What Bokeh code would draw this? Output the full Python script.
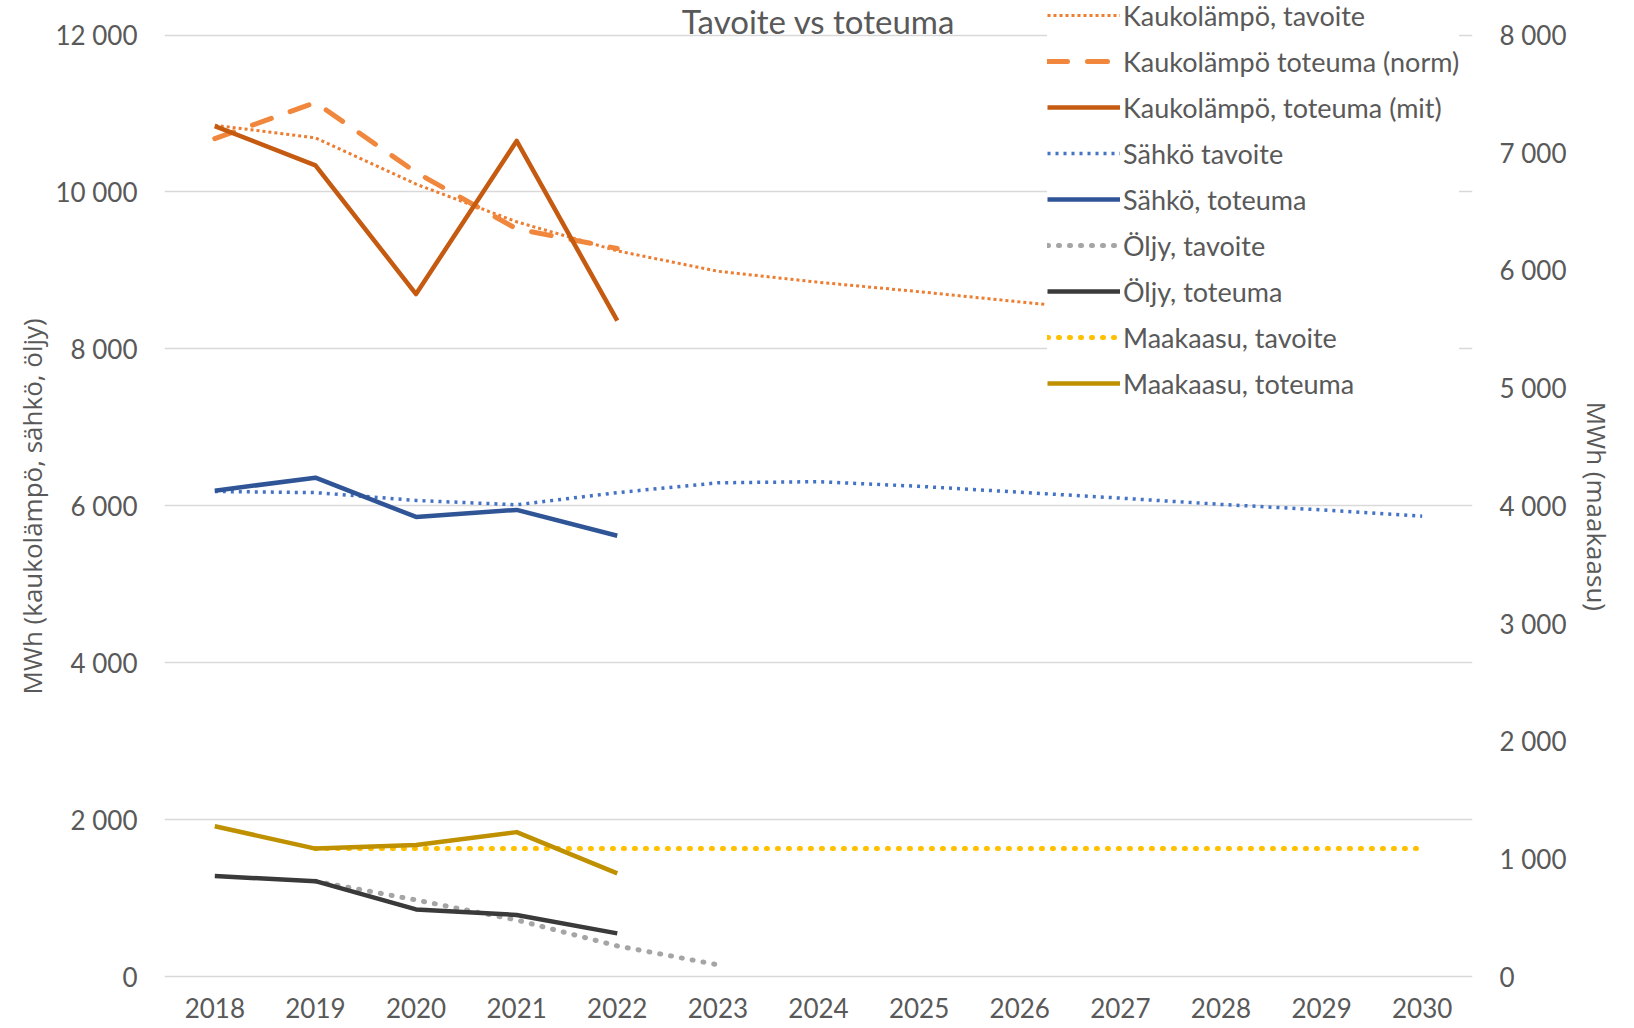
from bokeh.plotting import figure
from bokeh.models import (Range1d, LinearAxis, FixedTicker, CustomJSTickFormatter,
                          Legend, LegendItem, Label)
from bokeh.embed import file_html
from bokeh.resources import INLINE

# ---------------- data ----------------
years = [2018, 2019, 2020, 2021, 2022, 2023, 2024, 2025, 2026, 2027, 2028, 2029, 2030]
years_actual = [2018, 2019, 2020, 2021, 2022]

kaukolampo_tavoite = [10850, 10690, 10100, 9620, 9250, 8990, 8850, 8730, 8600, 8470, 8350, 8230, 8120]
kaukolampo_norm = [10680, 11140, 10250, 9530, 9280]
kaukolampo_mit = [10840, 10340, 8700, 10650, 8360]

sahko_tavoite = [6185, 6170, 6070, 6015, 6170, 6295, 6310, 6250, 6175, 6100, 6020, 5950, 5870]
sahko_toteuma = [6195, 6360, 5860, 5950, 5620]

oljy_tavoite_years = [2019, 2020, 2021, 2022, 2023]
oljy_tavoite = [1220, 980, 725, 395, 155]
oljy_toteuma = [1285, 1220, 860, 790, 555]

maakaasu_tavoite_years = [2019, 2020, 2021, 2022, 2023, 2024, 2025, 2026, 2027, 2028, 2029, 2030]
maakaasu_tavoite = [1090, 1090, 1090, 1090, 1090, 1090, 1090, 1090, 1090, 1090, 1090, 1090]
maakaasu_toteuma = [1280, 1090, 1120, 1230, 880]

left_ticks = [0, 2000, 4000, 6000, 8000, 10000, 12000]
right_ticks = [0, 1000, 2000, 3000, 4000, 5000, 6000, 7000, 8000]

title_text = "Tavoite vs toteuma"
left_label = "MWh (kaukolämpö, sähkö, öljy)"
right_label = "MWh (maakaasu)"

TXT = "#595959"

# layout (pixels)
W, H = 1618, 1028
BORDER_L, BORDER_R, BORDER_B = 164, 146, 50
FRAME_H = H - BORDER_B                     # frame starts at the very top of the canvas
GRID_TOP_PX = 34.5                         # where the 12 000 gridline sits
PAD_BOTTOM = 20                            # keeps the 0 gridline inside the frame
units_per_px = (12000 + PAD_BOTTOM) / (FRAME_H - GRID_TOP_PX)
y_end = 12000 + GRID_TOP_PX * units_per_px
RATIO = 8000 / 12000

# axis titles are centred on the whole frame (which reaches the top of the canvas);
# non-breaking padding moves the visible words down to the centre of the 0..12 000 span
NB = "\u00a0"
TITLE_SHIFT = NB * 5

p = figure(width=W, height=H,
           x_range=Range1d(2017.5, 2030.5), y_range=Range1d(-PAD_BOTTOM, y_end),
           output_backend="svg", toolbar_location=None,
           min_border_left=BORDER_L, min_border_right=BORDER_R,
           min_border_top=0, min_border_bottom=BORDER_B)
p.outline_line_color = None
p.background_fill_color = "white"
p.border_fill_color = "white"
p.xgrid.visible = False
p.ygrid.ticker = FixedTicker(ticks=left_ticks)
p.ygrid.grid_line_color = "#D9D9D9"
p.ygrid.grid_line_width = 1.5

p.extra_y_ranges = {"gas": Range1d(-PAD_BOTTOM * RATIO, y_end * RATIO)}

fmt_code = r"""
const s = Math.round(tick).toString();
return s.replace(/\B(?=(\d{3})+(?!\d))/g, " ");
"""

def style_axis(ax, standoff):
    ax.axis_line_color = None
    ax.major_tick_line_color = None
    ax.minor_tick_line_color = None
    ax.major_tick_out = 0
    ax.major_tick_in = 0
    ax.major_label_text_font = "Lato"
    ax.major_label_text_font_size = "26px"
    ax.major_label_text_color = TXT
    ax.major_label_standoff = standoff
    ax.axis_label_text_font = "Open Sans"
    ax.axis_label_text_font_size = "26px"
    ax.axis_label_text_font_style = "normal"
    ax.axis_label_text_color = TXT

xax = p.xaxis[0]
xax.ticker = FixedTicker(ticks=years)
style_axis(xax, 19)

yax = p.yaxis[0]
yax.ticker = FixedTicker(ticks=left_ticks)
yax.formatter = CustomJSTickFormatter(code=fmt_code)
style_axis(yax, 27)
yax.axis_label = left_label + TITLE_SHIFT
yax.axis_label_standoff = 2

rax = LinearAxis(y_range_name="gas", ticker=FixedTicker(ticks=right_ticks),
                 formatter=CustomJSTickFormatter(code=fmt_code))
style_axis(rax, 27)
p.add_layout(rax, "right")

# second right axis that only carries the title
rax2 = LinearAxis(y_range_name="gas", ticker=FixedTicker(ticks=[]))
style_axis(rax2, 0)
rax2.axis_label = TITLE_SHIFT + right_label
rax2.axis_label_standoff = 9
p.add_layout(rax2, "right")

# ---------------- lines ----------------
r_kl_t = p.line(years, kaukolampo_tavoite, line_color="#ED7D31", line_width=3, line_dash="3 3")
r_sa_t = p.line(years, sahko_tavoite, line_color="#4472C4", line_width=3.5, line_dash="3 5")
r_ol_t = p.line(oljy_tavoite_years, oljy_tavoite, line_color="#A5A5A5", line_width=5,
                line_dash="1 10", line_cap="round")
r_mk_t = p.line(maakaasu_tavoite_years, maakaasu_tavoite, y_range_name="gas",
                line_color="#FFC000", line_width=5, line_dash="1 10", line_cap="round")

r_kl_n = p.line(years_actual, kaukolampo_norm, line_color="#F0873C", line_width=5,
                line_dash="20 20", line_cap="round")
r_kl_m = p.line(years_actual, kaukolampo_mit, line_color="#C55A11", line_width=4.5,
                line_join="round")
r_sa_m = p.line(years_actual, sahko_toteuma, line_color="#2F5597", line_width=4.5, line_join="round")
r_ol_m = p.line(years_actual, oljy_toteuma, line_color="#3A3A3A", line_width=4.5, line_join="round")
r_mk_m = p.line(years_actual, maakaasu_toteuma, y_range_name="gas", line_color="#BF9000",
                line_width=4.5, line_join="round")

items = [
    LegendItem(label="Kaukolämpö, tavoite", renderers=[r_kl_t]),
    LegendItem(label="Kaukolämpö toteuma (norm)", renderers=[r_kl_n]),
    LegendItem(label="Kaukolämpö, toteuma (mit)", renderers=[r_kl_m]),
    LegendItem(label="Sähkö tavoite", renderers=[r_sa_t]),
    LegendItem(label="Sähkö, toteuma", renderers=[r_sa_m]),
    LegendItem(label="Öljy, tavoite", renderers=[r_ol_t]),
    LegendItem(label="Öljy, toteuma", renderers=[r_ol_m]),
    LegendItem(label="Maakaasu, tavoite", renderers=[r_mk_t]),
    LegendItem(label="Maakaasu, toteuma", renderers=[r_mk_m]),
]
LEG_H = 9 * 32.4 + 8 * 13
LEG_TOP = 4
legend = Legend(items=items, location=(883, FRAME_H - LEG_H - LEG_TOP), padding=0, spacing=13,
                glyph_width=73, glyph_height=32, label_height=32,
                label_standoff=3,
                label_text_font="Lato", label_text_font_size="27px", label_text_color=TXT,
                border_line_color=None, background_fill_color="white",
                background_fill_alpha=1.0, margin=0)
p.add_layout(legend)

TITLE_DROP_PX = 6
title = Label(x=2024, y=12000 - TITLE_DROP_PX * units_per_px, text=title_text,
              text_align="center", text_baseline="bottom",
              text_font="Lato", text_font_size="33px", text_color=TXT)
p.add_layout(title)

open("out.html", "w").write(file_html(p, INLINE))
